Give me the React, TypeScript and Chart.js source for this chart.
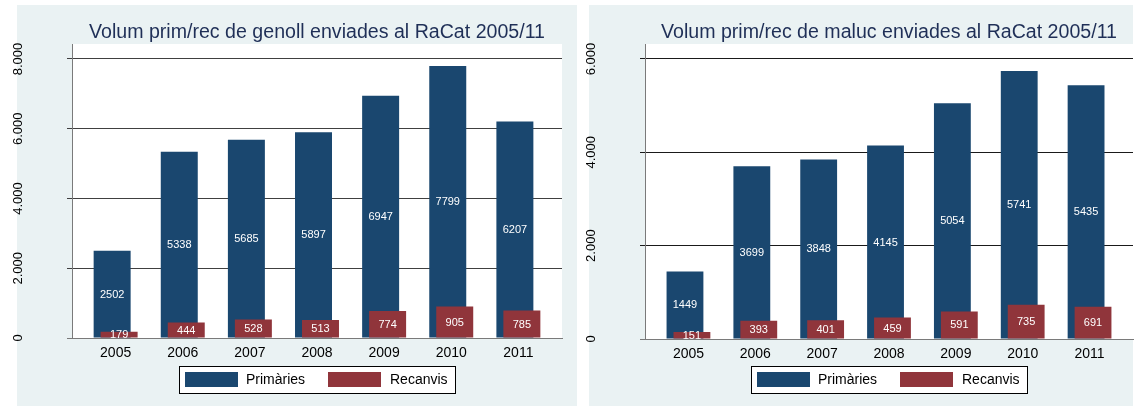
import React, { useEffect, useRef } from "react";
import { Chart, registerables } from "chart.js";
Chart.register(...registerables);

const years = [2005, 2006, 2007, 2008, 2009, 2010, 2011];
const genollPrimaries = [2502, 5338, 5685, 5897, 6947, 7799, 6207];
const genollRecanvis = [179, 444, 528, 513, 774, 905, 785];
const malucPrimaries = [1449, 3699, 3848, 4145, 5054, 5741, 5435];
const malucRecanvis = [151, 393, 401, 459, 591, 735, 691];
const genollTicks = [0, 2000, 4000, 6000, 8000];
const malucTicks = [0, 2000, 4000, 6000];
const seriesLabels = ["Primàries", "Recanvis"];
const genollTitle = "Volum prim/rec de genoll enviades al RaCat 2005/11";
const malucTitle = "Volum prim/rec de maluc enviades al RaCat 2005/11";

const FONT = "'Liberation Sans', Arial, sans-serif";
const PANEL_BG = "#eaf2f3";
const NAVY = "#1a476f";
const MAROON = "#90353b";
const AXIS_GRAY = "#7a7a7a";
const X_MIN = 2004.35;
const X_MAX = 2011.65;
const SHIFT = 0.052; // half-offset between overlapping bars, in axis units

const fmt = (v: number) => String(v).replace(/\B(?=(\d{3})+(?!\d))/g, ".");

type Cfg = {
  title: string;
  prim: number[];
  rec: number[];
  ticks: number[];
  yMax: number;
  gridColor: string;
  padRight: number;
  yWidth: number;
  xHeight: number;
};

function makeChart(canvas: HTMLCanvasElement, cfg: Cfg) {
  const plugin = {
    id: "stataStyle",
    beforeDraw(chart: any) {
      const { ctx, chartArea: a } = chart;
      ctx.save();
      ctx.fillStyle = "#ffffff";
      ctx.fillRect(a.left, a.top, a.right - a.left, a.bottom - a.top);
      ctx.restore();
    },
    afterDatasetsDraw(chart: any) {
      const { ctx } = chart;
      ctx.save();
      ctx.fillStyle = "#ffffff";
      ctx.font = `11px ${FONT}`;
      ctx.textAlign = "center";
      ctx.textBaseline = "middle";
      chart.data.datasets.forEach((ds: any, di: number) => {
        const meta = chart.getDatasetMeta(di);
        meta.data.forEach((el: any, i: number) => {
          const p = el.getProps(["x", "y", "base"], true);
          ctx.fillText(String(ds.data[i].y), p.x, (p.y + p.base) / 2 + 0.5);
        });
      });
      ctx.restore();
    },
    afterDraw(chart: any) {
      const { ctx, chartArea: a } = chart;
      const cx = (a.left + a.right) / 2;
      ctx.save();
      // title
      ctx.fillStyle = "#1f2f57";
      ctx.font = `19.6px ${FONT}`;
      ctx.textAlign = "center";
      ctx.textBaseline = "alphabetic";
      ctx.fillText(cfg.title, cx, 38);
      // y tick labels (rotated)
      const ys = chart.scales.y;
      ctx.fillStyle = "#000000";
      ctx.font = `13px ${FONT}`;
      ctx.textBaseline = "middle";
      cfg.ticks.forEach((t) => {
        ctx.save();
        ctx.translate(a.left - 54, ys.getPixelForValue(t));
        ctx.rotate(-Math.PI / 2);
        ctx.fillText(fmt(t), 0, 0);
        ctx.restore();
      });
      // legend
      const L = Math.round(cx - 138);
      const top = 366;
      ctx.fillStyle = "#ffffff";
      ctx.fillRect(L, top, 276, 27);
      ctx.strokeStyle = "#000000";
      ctx.lineWidth = 1;
      ctx.strokeRect(L + 0.5, top + 0.5, 276, 27);
      const cols = [NAVY, MAROON];
      const swX = [L + 6, L + 149];
      const txX = [L + 67, L + 211];
      ctx.font = `14px ${FONT}`;
      ctx.textAlign = "left";
      ctx.textBaseline = "middle";
      seriesLabels.forEach((lab, i) => {
        ctx.fillStyle = cols[i];
        ctx.fillRect(swX[i], top + 6, 53, 15);
        ctx.fillStyle = "#000000";
        ctx.fillText(lab, txX[i], top + 14);
      });
      ctx.restore();
    },
  };

  const hiddenAxis = (shift: number) => ({
    type: "linear",
    display: false,
    min: X_MIN + shift,
    max: X_MAX + shift,
    offset: false,
    grid: { display: false, offset: false },
  });

  return new Chart(canvas, {
    type: "bar",
    data: {
      datasets: [
        {
          label: seriesLabels[0],
          data: years.map((x, i) => ({ x, y: cfg.prim[i] })),
          backgroundColor: NAVY,
          borderWidth: 0,
          xAxisID: "xp",
          order: 1,
          grouped: false,
          categoryPercentage: 1,
          barPercentage: 0.551,
        },
        {
          label: seriesLabels[1],
          data: years.map((x, i) => ({ x, y: cfg.rec[i] })),
          backgroundColor: MAROON,
          borderWidth: 0,
          xAxisID: "xr",
          order: 0,
          grouped: false,
          categoryPercentage: 1,
          barPercentage: 0.551,
        },
      ] as any,
    },
    options: {
      animation: false,
      responsive: false,
      maintainAspectRatio: false,
      layout: { padding: { top: 44, left: 0, right: cfg.padRight, bottom: 0 } },
      plugins: {
        legend: { display: false },
        tooltip: { enabled: false },
        title: { display: false },
      },
      scales: {
        x: {
          type: "linear",
          position: "bottom",
          min: X_MIN,
          max: X_MAX,
          offset: false,
          afterBuildTicks: (s: any) => {
            s.ticks = years.map((v) => ({ value: v }));
          },
          afterFit: (s: any) => {
            s.height = cfg.xHeight;
          },
          grid: { display: false, offset: false, drawTicks: false },
          border: { display: true, color: AXIS_GRAY, width: 1 },
          ticks: {
            color: "#000000",
            font: { family: FONT, size: 14 },
            padding: 7,
            autoSkip: false,
            maxRotation: 0,
            callback: (v: any) => String(v),
          },
        },
        xp: hiddenAxis(SHIFT),
        xr: hiddenAxis(-SHIFT),
        y: {
          type: "linear",
          min: 0,
          max: cfg.yMax,
          afterBuildTicks: (s: any) => {
            s.ticks = cfg.ticks.map((v) => ({ value: v }));
          },
          afterFit: (s: any) => {
            s.width = cfg.yWidth;
          },
          grid: {
            display: true,
            drawTicks: true,
            tickLength: 5,
            color: (c: any) => (c.tick && c.tick.value === 0 ? AXIS_GRAY : cfg.gridColor),
            lineWidth: 1,
          },
          border: { display: true, color: AXIS_GRAY, width: 1 },
          ticks: { display: false },
        },
      },
    } as any,
    plugins: [plugin],
  });
}

function Panel(props: { cfg: Cfg; left: number; width: number }) {
  const ref = useRef<HTMLCanvasElement | null>(null);
  useEffect(() => {
    if (!ref.current) return;
    const ch = makeChart(ref.current, props.cfg);
    return () => ch.destroy();
  }, []);
  return (
    <canvas
      ref={ref}
      width={props.width}
      height={406}
      style={{ position: "absolute", left: props.left, top: 0, width: props.width, height: 406 }}
    />
  );
}

export default function App() {
  const cfg1: Cfg = {
    title: genollTitle,
    prim: genollPrimaries,
    rec: genollRecanvis,
    ticks: genollTicks,
    yMax: 8430,
    gridColor: "#404040",
    padRight: 15,
    yWidth: 72,
    xHeight: 68,
  };
  const cfg2: Cfg = {
    title: malucTitle,
    prim: malucPrimaries,
    rec: malucRecanvis,
    ticks: malucTicks,
    yMax: 6321,
    gridColor: "#1a1a1a",
    padRight: 2,
    yWidth: 67,
    xHeight: 67,
  };
  return (
    <div style={{ position: "absolute", left: 0, top: 0, width: 1135, height: 406, background: "#ffffff", overflow: "hidden" }}>
      <div style={{ position: "absolute", left: 17, top: 5, width: 560, height: 401, background: PANEL_BG }} />
      <div style={{ position: "absolute", left: 589, top: 5, width: 544, height: 401, background: PANEL_BG }} />
      <Panel cfg={cfg1} left={0} width={577} />
      <Panel cfg={cfg2} left={578} width={557} />
    </div>
  );
}
